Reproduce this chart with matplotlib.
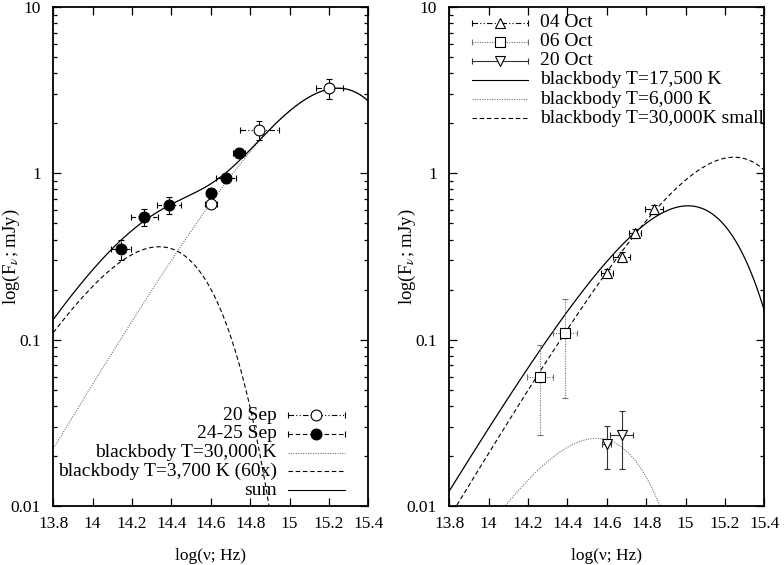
import numpy as np
import matplotlib
matplotlib.use("Agg")
import matplotlib.pyplot as plt
from matplotlib.ticker import FixedLocator, NullLocator, LogLocator, NullFormatter

plt.rcParams['font.family'] = ['Liberation Serif', 'DejaVu Serif']
plt.rcParams['mathtext.fontset'] = 'stix'

# ---------------- data ----------------
# left panel
sep20_lognu = [14.601, 14.846, 15.202]
sep20_flux = [0.656, 1.815, 3.26]
sep20_xerr = [0.03, 0.10, 0.07]
sep20_ylo = [0.04, 0.235, 0.46]
sep20_yhi = [0.04, 0.245, 0.43]

sep24_lognu = [14.144, 14.262, 14.389, 14.601, 14.676, 14.743]
sep24_flux = [0.349, 0.546, 0.642, 0.762, 0.937, 1.325]
sep24_xerr = [0.05, 0.068, 0.06, 0.025, 0.05, 0.03]
sep24_yerr = [0.048, 0.065, 0.075, 0.055, 0.06, 0.05]

left_temps = [30000, 3700]          # K
left_peaks = [3.25, 0.362]          # peak flux (mJy)

# right panel
oct04_lognu = [14.599, 14.675, 14.743, 14.840]
oct04_flux = [0.251, 0.315, 0.436, 0.607]
oct04_xerr = [0.03, 0.045, 0.03, 0.045]
oct04_yerr = [0.015, 0.02, 0.025, 0.035]

oct06_lognu = [14.261, 14.389]
oct06_flux = [0.0593, 0.109]
oct06_lo = [0.0267, 0.0448]
oct06_hi = [0.093, 0.1745]
oct06_xerr = [0.068, 0.06]

oct20_lognu = [14.599, 14.675]
oct20_flux = [0.0236, 0.0269]
oct20_lo = [0.0168, 0.0167]
oct20_hi = [0.0302, 0.0372]
oct20_xerr = [0.024, 0.057]

right_temps = [17500, 6000, 30000]
right_peaks = [0.638, 0.0255, 1.25]

xticks = [13.8, 14.0, 14.2, 14.4, 14.6, 14.8, 15.0, 15.2, 15.4]
xticklabels = ['13.8', '14', '14.2', '14.4', '14.6', '14.8', '15', '15.2', '15.4']
yticks = [0.01, 0.1, 1, 10]
yticklabels = ['0.01', '0.1', '1', '10']

left_labels = ['20 Sep', '24-25 Sep', 'blackbody T=30,000 K',
               'blackbody T=3,700 K (60x)', 'sum']
right_labels = ['04 Oct', '06 Oct', '20 Oct', 'blackbody T=17,500 K',
                'blackbody T=6,000 K', 'blackbody T=30,000K small']

# ---------------- helpers ----------------
H_OVER_K = 4.799243e-11
XPEAK = 2.821439


def planck_shape(x):
    return x ** 3 / np.expm1(x)


def blackbody(lognu, T, peak):
    x = H_OVER_K * 10 ** lognu / T
    return peak * planck_shape(x) / planck_shape(XPEAK)


DDD = (0, (5, 2, 1, 2, 1, 2))
DASH = (0, (4, 2.5))
DOT = (0, (1, 1.2))
SOLID = '-'
GREY = '0.45'
LEG_FS = 14

lognu = np.linspace(13.8, 15.4, 600)

fig = plt.figure(figsize=(7.84, 5.65), dpi=100)
W, Hh = 784, 565
axL = fig.add_axes([53.3 / W, 1 - 506 / Hh, 315 / W, 499 / Hh])
axR = fig.add_axes([449.3 / W, 1 - 506 / Hh, 315 / W, 499 / Hh])

for ax in (axL, axR):
    ax.set_yscale('log')
    ax.set_xlim(13.8, 15.4)
    ax.set_ylim(0.01, 10)
    ax.xaxis.set_major_locator(FixedLocator(xticks))
    ax.set_xticklabels(xticklabels)
    ax.xaxis.set_minor_locator(NullLocator())
    ax.yaxis.set_major_locator(FixedLocator(yticks))
    ax.set_yticklabels(yticklabels)
    ax.yaxis.set_minor_locator(LogLocator(base=10, subs=np.arange(2, 10)))
    ax.yaxis.set_minor_formatter(NullFormatter())
    ax.tick_params(which='both', direction='in', top=True, right=True,
                   labelsize=12.5, width=0.9)
    ax.tick_params(which='major', length=5.5)
    ax.tick_params(which='minor', length=3)
    ax.tick_params(axis='x', pad=7)
    ax.tick_params(axis='y', pad=9)
    for s in ax.spines.values():
        s.set_linewidth(1.3)
    ax.set_xlabel('log(ν; Hz)', fontsize=12.5)
    ax.set_ylabel(r'log(F$_{\nu}$; mJy)', fontsize=13.5)
    ax.yaxis.set_label_coords(-0.098, 0.5)
    ax.xaxis.set_label_coords(0.5, -0.085)


def draw_eb(ax, x, y, xerr, yerr, marker, mfc, ls, color, ms=7.8):
    eb = ax.errorbar(x, y, xerr=xerr, yerr=yerr, fmt=marker, mfc=mfc,
                     mec='black', mew=0.8, ms=ms, ecolor=color,
                     elinewidth=0.8, capsize=2.2, capthick=0.8,
                     linestyle='none', zorder=4)
    for lc in eb[2]:
        lc.set_linestyle(ls)
    return eb


def legend_row(ax, x0, x1, y, ls, color, marker=None, mfc='white', caps=False, ms=7.8):
    ax.plot([x0, x1], [y, y], transform=ax.transAxes, ls=ls, color=color,
            lw=0.8, clip_on=False, zorder=5)
    if caps:
        ax.plot([x0, x1], [y, y], transform=ax.transAxes, ls='none',
                marker='|', ms=5, mew=0.8, color=color, clip_on=False, zorder=5)
    if marker is not None:
        ax.plot([(x0 + x1) / 2], [y], transform=ax.transAxes, ls='none',
                marker=marker, ms=ms, mfc=mfc, mec='black', mew=0.8,
                clip_on=False, zorder=6)


# ---------------- left panel ----------------
bb30 = blackbody(lognu, left_temps[0], left_peaks[0])
bb37 = blackbody(lognu, left_temps[1], left_peaks[1])
axL.plot(lognu, bb30, ls=DOT, color=GREY, lw=0.8)
axL.plot(lognu, bb37, ls=DASH, color='black', lw=0.8)
axL.plot(lognu, bb30 + bb37, ls=SOLID, color='black', lw=0.9)

draw_eb(axL, sep24_lognu, sep24_flux, sep24_xerr, sep24_yerr, 'o', 'black', DASH, 'black')
draw_eb(axL, sep20_lognu, sep20_flux, sep20_xerr, [sep20_ylo, sep20_yhi], 'o', 'white', DDD, 'black')

ly = [0.182, 0.1445, 0.107, 0.0695, 0.032]
tx = 0.71
lx0, lx1 = 0.745, 0.926
legend_row(axL, lx0, lx1, ly[0], DDD, 'black', 'o', 'white', caps=True)
legend_row(axL, lx0, lx1, ly[1], DASH, 'black', 'o', 'black', caps=True)
legend_row(axL, lx0, lx1, ly[2], DOT, GREY)
legend_row(axL, lx0, lx1, ly[3], DASH, 'black')
legend_row(axL, lx0, lx1, ly[4], SOLID, 'black')
for yy, lab in zip(ly, left_labels):
    axL.text(tx, yy, lab, transform=axL.transAxes, ha='right', va='center',
             fontsize=LEG_FS, zorder=6)

# ---------------- right panel ----------------
axR.plot(lognu, blackbody(lognu, right_temps[0], right_peaks[0]), ls=SOLID, color='black', lw=0.9)
axR.plot(lognu, blackbody(lognu, right_temps[1], right_peaks[1]), ls=DOT, color=GREY, lw=0.8)
axR.plot(lognu, blackbody(lognu, right_temps[2], right_peaks[2]), ls=DASH, color='black', lw=0.8)

draw_eb(axR, oct04_lognu, oct04_flux, oct04_xerr, oct04_yerr, '^', 'white', DDD, 'black', ms=7)
o6lo = [f - l for f, l in zip(oct06_flux, oct06_lo)]
o6hi = [h - f for f, h in zip(oct06_flux, oct06_hi)]
draw_eb(axR, oct06_lognu, oct06_flux, oct06_xerr, [o6lo, o6hi], 's', 'white', DOT, GREY, ms=7.5)
o20lo = [f - l for f, l in zip(oct20_flux, oct20_lo)]
o20hi = [h - f for f, h in zip(oct20_flux, oct20_hi)]
draw_eb(axR, oct20_lognu, oct20_flux, oct20_xerr, [o20lo, o20hi], 'v', 'white', SOLID, '0.2', ms=7)

ry = [0.9685, 0.9305, 0.892, 0.854, 0.8155, 0.7775]
rx0, rx1 = 0.072, 0.25
rtx = 0.288
legend_row(axR, rx0, rx1, ry[0], DDD, 'black', '^', 'white', caps=True, ms=7)
legend_row(axR, rx0, rx1, ry[1], DOT, GREY, 's', 'white', caps=True, ms=7.5)
legend_row(axR, rx0, rx1, ry[2], SOLID, '0.2', 'v', 'white', caps=True, ms=7)
legend_row(axR, rx0, rx1, ry[3], SOLID, 'black')
legend_row(axR, rx0, rx1, ry[4], DOT, GREY)
legend_row(axR, rx0, rx1, ry[5], DASH, 'black')
for yy, lab in zip(ry, right_labels):
    axR.text(rtx, yy, lab, transform=axR.transAxes, ha='left', va='center',
             fontsize=LEG_FS, zorder=6)

fig.savefig('out.png', dpi=100)
